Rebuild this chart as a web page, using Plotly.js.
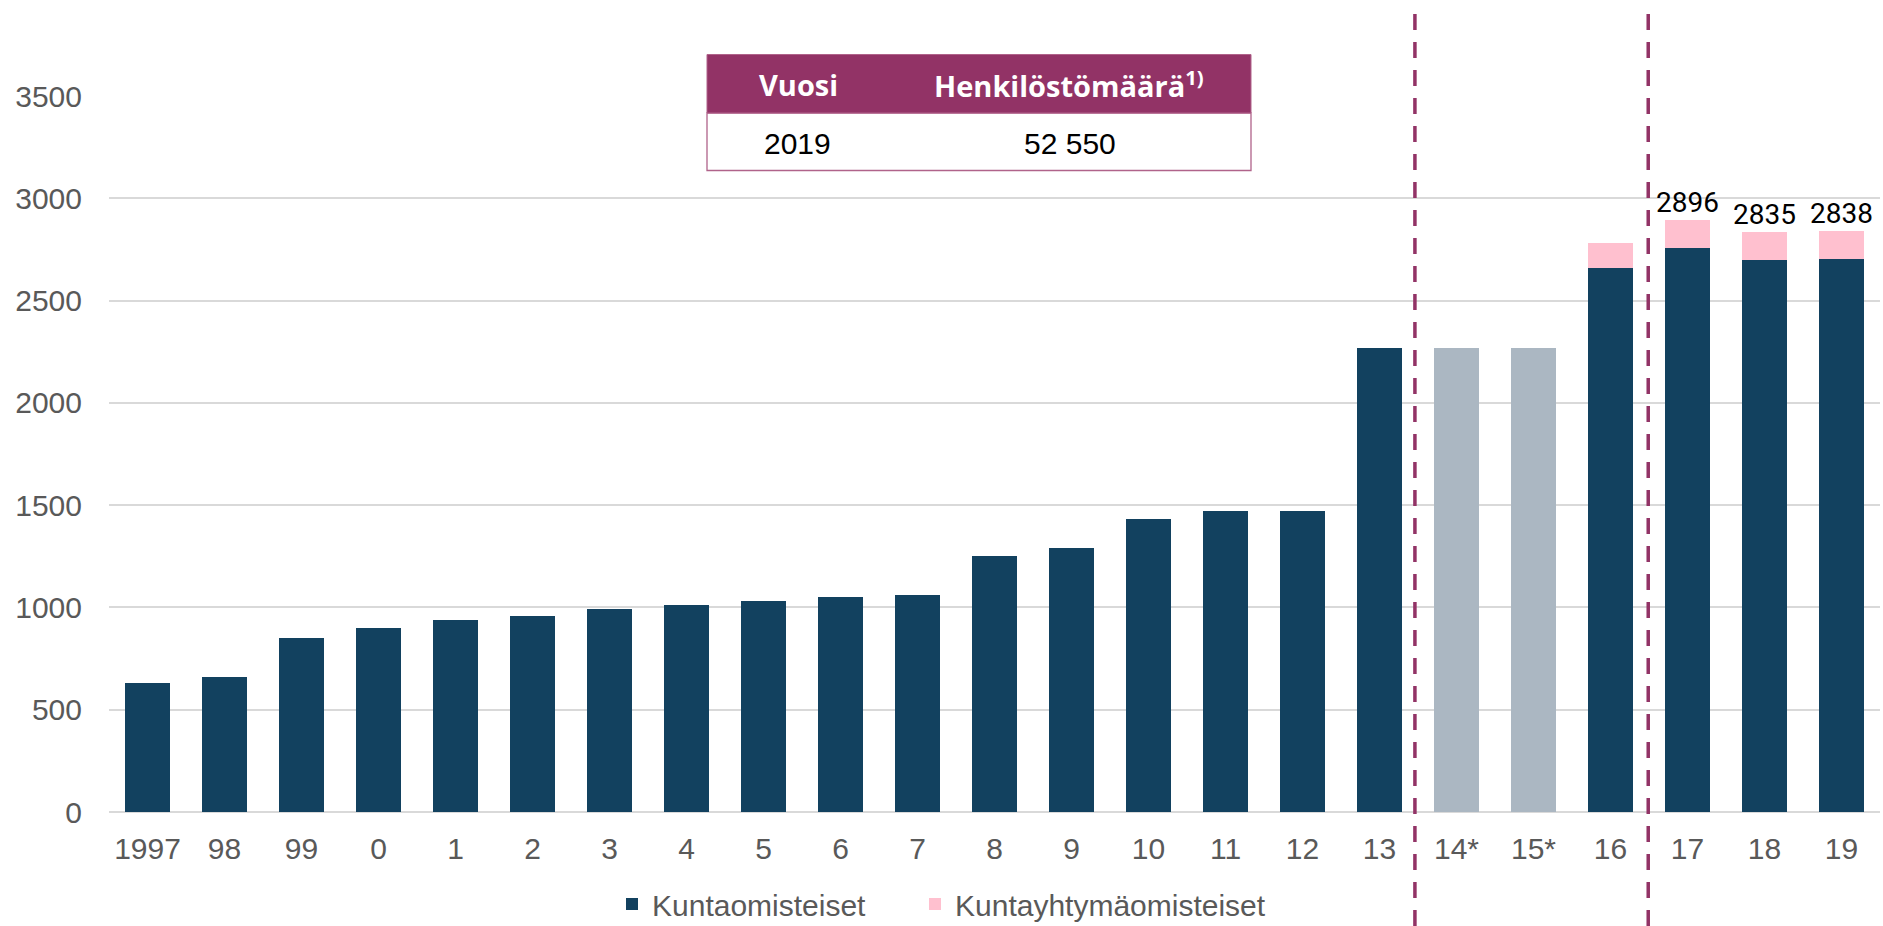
<!DOCTYPE html>
<html>
<head>
<meta charset="utf-8">
<script src="https://cdn.plot.ly/plotly-3.0.1.min.js"></script>
<style>html,body{margin:0;padding:0;background:#fff;}#chart{width:1883px;height:926px;}</style>
</head>
<body>
<div id="chart"></div>
<script>
// Categories (years)
const categories = ["1997","98","99","0","1","2","3","4","5","6","7","8","9","10","11","12","13","14*","15*","16","17","18","19"];
// Kuntaomisteiset (municipality-owned) values
const kuntaValues = [630,660,850,900,940,960,990,1010,1030,1050,1060,1250,1290,1430,1470,1470,2270,2268,2268,2657,2758,2698,2701];
// Kuntayhtymäomisteiset (joint-municipal-authority-owned) values
const yhtymaValues = [0,0,0,0,0,0,0,0,0,0,0,0,0,0,0,0,0,0,0,125,138,137,137];
// Estimated years (drawn grey)
const estimatedYears = ["14*","15*"];
// Total labels shown above the last bars
const totalLabelYears = ["17","18","19"];
const totalLabels = [2896,2835,2838];
// Table content
const tableHeader = ["Vuosi","Henkilöstömäärä<sup>1)</sup>"];
const tableRow = ["2019","52 550"];
const yTicks = [0,500,1000,1500,2000,2500,3000,3500];

const DARK = "#12415F", GREY = "#ABB7C2", PINK = "#FFC0CF", PURPLE = "#923366";
const kuntaColors = categories.map(c => estimatedYears.includes(c) ? GREY : DARK);

const traces = [
  {type:"bar", name:"Kuntaomisteiset", x:categories, y:kuntaValues,
   marker:{color:kuntaColors}, hoverinfo:"x+y", legendwidth:258},
  {type:"bar", name:"Kuntayhtymäomisteiset", x:categories, y:yhtymaValues,
   marker:{color:PINK}, hoverinfo:"x+y"}
];

// pixel->paper helpers for plot area (x: 109..1880, y: 96..812)
const W=1883, H=926, L=109, R=1880, T=96, B=812;
const px = v => (v-L)/(R-L);
const py = v => (B-v)/(B-T);

const shapes = [
  // dashed dividers
  {type:"line", xref:"x", yref:"paper", x0:16.46, x1:16.46, y0:py(926), y1:py(8),
   line:{color:PURPLE, width:3.5, dash:"16px,12px"}, layer:"above"},
  {type:"line", xref:"x", yref:"paper", x0:19.49, x1:19.49, y0:py(926), y1:py(8),
   line:{color:PURPLE, width:3.5, dash:"16px,12px"}, layer:"above"},
  // table body
  {type:"rect", xref:"paper", yref:"paper", x0:px(707), x1:px(1251), y0:py(170.5), y1:py(113),
   fillcolor:"#ffffff", line:{color:"#B0638A", width:1.3}, layer:"above"},
  // table header
  {type:"rect", xref:"paper", yref:"paper", x0:px(707), x1:px(1251), y0:py(113), y1:py(54.5),
   fillcolor:PURPLE, line:{color:"#B0638A", width:1}, layer:"above"}
];

const annotations = [];
totalLabelYears.forEach((yr,i)=>{
  annotations.push({x:categories.indexOf(yr), y:totalLabels[i], xref:"x", yref:"y", text:String(totalLabels[i]),
    showarrow:false, xanchor:"center", yanchor:"bottom", borderpad:0, yshift:0,
    font:{family:"Roboto, Arial", size:28, color:"#000"}});
});
const hdrFont = {family:"Open Sans, Arial", size:29, color:"#fff"};
annotations.push({xref:"paper", yref:"paper", x:px(798), y:py(84), xanchor:"center", yanchor:"middle",
  text:"<b>"+tableHeader[0]+"</b>", showarrow:false, font:hdrFont});
annotations.push({xref:"paper", yref:"paper", x:px(1069), y:py(84), xanchor:"center", yanchor:"middle",
  text:"<b>"+tableHeader[1]+"</b>", showarrow:false, font:hdrFont});
const bodyFont = {family:"Liberation Sans, Arial", size:30, color:"#000"};
annotations.push({xref:"paper", yref:"paper", x:px(797.5), y:py(143), xanchor:"center", yanchor:"middle",
  text:tableRow[0], showarrow:false, font:bodyFont});
annotations.push({xref:"paper", yref:"paper", x:px(1070), y:py(143), xanchor:"center", yanchor:"middle",
  text:tableRow[1], showarrow:false, font:bodyFont});

const layout = {
  width:W, height:H,
  margin:{l:L, r:W-R, t:T, b:H-B},
  paper_bgcolor:"#fff", plot_bgcolor:"#fff",
  barmode:"stack", bargap:0.42,
  font:{family:"Liberation Sans, Arial", color:"#595959"},
  showlegend:true,
  legend:{orientation:"h", xref:"container", yref:"container", x:612/W, xanchor:"left",
    y:1-904/H, yanchor:"middle",
    font:{family:"Liberation Sans, Arial", size:30, color:"#595959"}, traceorder:"normal"},
  xaxis:{type:"category", tickfont:{size:30, color:"#595959"}, showgrid:false,
    showline:false, ticks:"", ticklabelstandoff:16, automargin:false, fixedrange:true},
  yaxis:{range:[0,3500], tickvals:yTicks, ticktext:yTicks.map(String),
    tickfont:{size:30, color:"#595959"}, gridcolor:"#D9D9D9", gridwidth:2,
    zeroline:true, zerolinecolor:"#D9D9D9", zerolinewidth:2, showline:false, ticks:"",
    ticklabelstandoff:26, automargin:false, fixedrange:true},
  shapes:shapes, annotations:annotations
};

Plotly.newPlot("chart", traces, layout, {displayModeBar:false, staticPlot:true});
</script>
</body>
</html>
